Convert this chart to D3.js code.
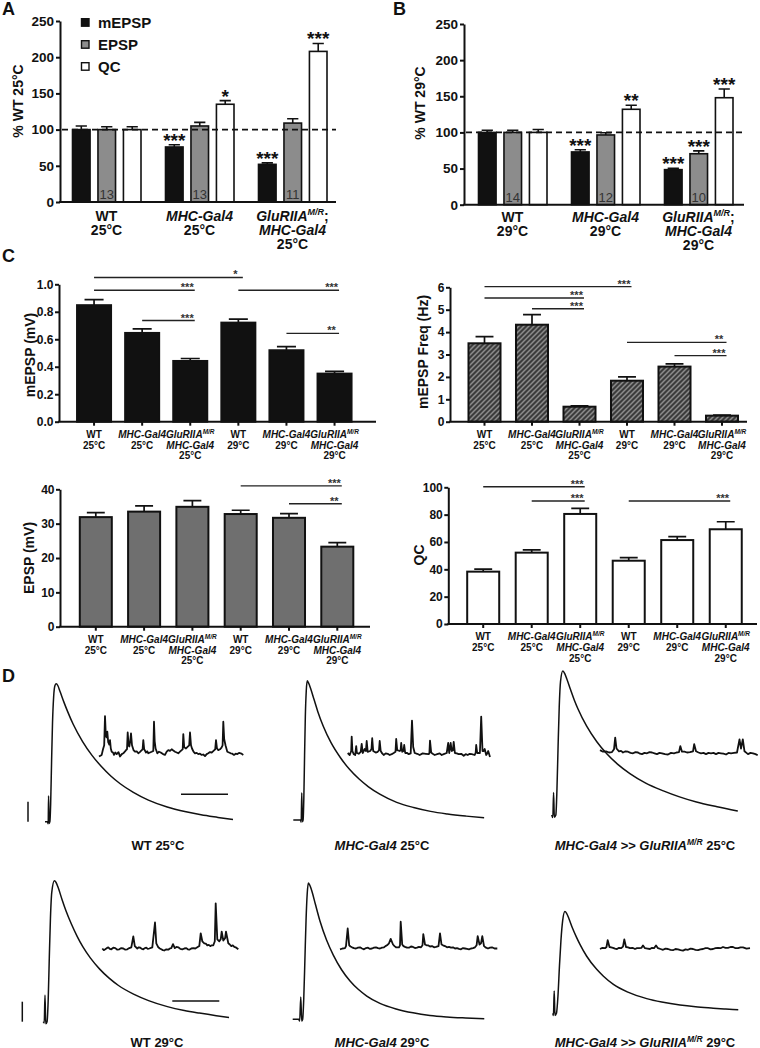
<!DOCTYPE html>
<html>
<head>
<meta charset="utf-8">
<script src="https://cdn.jsdelivr.net/npm/d3@7"></script>
<style>
  body { margin: 0; background: #fff; }
  svg { display: block; font-family: "Liberation Sans", Arial, Helvetica, sans-serif; font-weight: bold; }
</style>
</head>
<body>
<svg id="fig" width="760" height="1048"></svg>
<script>
// ---------- A / B : % of WT ----------
const seriesAB = ["mEPSP", "EPSP", "QC"]
const labelsA = [["WT", "25°C"], ["_MHC-Gal4_", "25°C"], ["_GluRIIA^M/R^_;", "_MHC-Gal4_", "25°C"]]
const labelsB = [["WT", "29°C"], ["_MHC-Gal4_", "29°C"], ["_GluRIIA^M/R^_;", "_MHC-Gal4_", "29°C"]]
const ticksAB = [0, 50, 100, 150, 200, 250]

const mepspA = [100, 76, 52]
const mepspAErr = [5, 3, 2]
const epspA = [100, 105, 109]
const epspAErr = [4, 5, 6]
const qcA = [100, 135, 208]
const qcAErr = [4, 5, 11]
const starsA = [["", "", ""], ["***", "", "*"], ["***", "", "***"]]
const nA = [13, 13, 11]

const mepspB = [100, 73, 48.5]
const mepspBErr = [3, 3, 2]
const epspB = [100, 96.5, 70.5]
const epspBErr = [3, 3, 4]
const qcB = [100, 132, 148]
const qcBErr = [4, 5.5, 12]
const starsB = [["", "", ""], ["***", "", "**"], ["***", "***", "***"]]
const nB = [14, 12, 10]

// ---------- C : raw values ----------
const genotypes = [["WT", "25°C"], ["_MHC-Gal4_", "25°C"], ["_GluRIIA^M/R^_", "_MHC-Gal4_", "25°C"],
                   ["WT", "29°C"], ["_MHC-Gal4_", "29°C"], ["_GluRIIA^M/R^_", "_MHC-Gal4_", "29°C"]]

const mepspC = [0.848, 0.646, 0.442, 0.721, 0.52, 0.35]
const mepspCErr = [0.04, 0.03, 0.018, 0.025, 0.026, 0.016]
const mepspSig = [[0, 3, "*"], [0, 2, "***"], [1, 2, "***"], [3, 5, "***"], [4, 5, "**"]]
const mepspSigLevel = [1.05, 0.957, 0.736, 0.957, 0.643]

const freqC = [3.5, 4.33, 0.67, 1.83, 2.46, 0.27]
const freqCErr = [0.3, 0.45, 0.04, 0.17, 0.12, 0.02]
const freqSig = [[0, 3, "***"], [0, 2, "***"], [1, 2, "***"], [3, 5, "**"], [4, 5, "***"]]
const freqSigLevel = [6.03, 5.52, 5.04, 3.54, 2.95]

const epspC = [31.9, 33.5, 34.9, 32.8, 31.7, 23.3]
const epspCErr = [1.3, 1.7, 1.8, 1.1, 1.2, 1.2]
const epspSig = [[3, 5, "***"], [4, 5, "**"]]
const epspSigLevel = [41, 35.8]

const qcC = [38.3, 52.2, 80.5, 46.3, 61.4, 69.3]
const qcCErr = [1.9, 2, 4.1, 2.2, 2.5, 5.5]
const qcSig = [[0, 2, "***"], [1, 2, "***"], [3, 5, "***"]]
const qcSigLevel = [100.4, 90, 90]

// ---------- D : example traces (ms, mV) ----------
const epspWT25 = [[0,0],[1.3,0],[1.7,-0.5],[1.9,6],[2.2,-0.4],[2.6,0],[3.0,4],[3.5,14],[4.0,23],[4.6,29],[5.3,31.6],[6.0,32],[6.8,31.6],[8,30.2],[10,27.8],[12,25.6],[15,22.6],[20,18.6],[25,15.4],[30,12.8],[35,10.6],[40,8.8],[47,6.8],[55,5],[65,3.4],[75,2.3],[83,1.6],[92,1],[100,0.5]]
const epspMHC25 = [[0,0],[3.8,0],[4.2,-0.5],[4.5,6.3],[4.8,-0.4],[5.2,0],[5.6,5],[6.0,15],[6.4,24],[6.9,30],[7.4,32.3],[8.1,31.8],[9.3,30.4],[11,28],[13,25.2],[16,21.7],[20,18],[25,14.5],[30,11.7],[35,9.5],[40,7.7],[46,6],[55,4.1],[64,2.9],[73,2],[82,1.4],[92,0.9],[101.5,0.5]]
const epspGlu25 = [[0,0],[0.6,-0.6],[1.0,5.2],[1.4,-0.5],[2.2,0],[2.8,6],[3.4,16],[4.0,25],[4.7,31],[5.9,33.4],[6.8,32.9],[8,31.6],[10,29.1],[12,26.7],[14,24.6],[18.6,20.6],[24,17],[29.3,14.2],[35,11.8],[41.6,9.6],[50,7.4],[59.4,5.6],[68,4.2],[77,3],[88,1.9],[99,0.9]]
const epspWT29 = [[0,0],[0.5,-0.3],[0.9,6.2],[1.3,-0.5],[2.0,0],[2.6,5],[3.2,15],[3.8,24],[4.5,30],[5.9,32.7],[6.8,32.3],[8,31],[10,28.3],[12,25.8],[15,22.6],[18,19.8],[21,17.4],[25,14.8],[30,12.2],[35,10.1],[40,8.4],[48,6.4],[56,4.9],[66,3.5],[75,2.6],[83,2],[92,1.4],[98.8,1]]
const epspMHC29 = [[0,0],[3.2,0],[3.7,-0.4],[4.3,5.2],[4.8,-0.4],[5.3,0],[5.9,5],[6.5,14],[7.1,23],[7.7,29],[8.3,31.6],[9,31.2],[10.3,29.6],[12,26.8],[14.5,22.8],[18,18.4],[21.6,14.9],[26,11.5],[30.5,8.9],[35,6.9],[39.4,5.4],[46.4,3.7],[55,2.4],[64,1.5],[73,0.9],[82,0.55],[92,0.3],[101.9,0.1]]
const epspGlu29 = [[0,0],[0.4,-0.5],[0.8,5.2],[1.2,-0.5],[2,0],[2.8,4],[3.6,11],[4.4,17],[5.3,21.5],[6.5,23.6],[7.4,23.2],[8.6,22],[10.5,19.8],[12.5,17.8],[14.5,16],[18,13.3],[23.4,10.2],[27,8.6],[32.3,6.7],[40,4.9],[50,3.4],[58,2.6],[67.7,1.9],[76,1.5],[85.4,1.2],[92,1],[98.7,0.8]]

const miniWT25 = [[0,-0.08],[27,-0.04],[40,0.1],[52,0.2],[60,0.93],[68,0.45],[76,0.4],[83,0.54],[92,0.28],[103,0.22],[110,0.33],[118,0.12],[127,0.04],[140,0.02],[150,-0.04],[163,0.02],[177,-0.02],[195,0.03],[210,-0.08],[228,-0.02],[243,0],[258,0.04],[270,0.08],[280,0.1],[287,0.52],[296,0.2],[303,0.17],[312,0.3],[320,0.5],[330,0.2],[345,0.08],[360,0.04],[377,0.05],[393,0],[408,0.03],[420,0.06],[436,0.1],[443,0.33],[452,0.1],[470,0.02],[482,0.05],[493,0],[510,0.02],[527,0.04],[543,0.06],[550,0.79],[557,0.3],[566,0.12],[583,0],[600,0.04],[617,0.02],[640,-0.02],[660,-0.04],[677,0.04],[693,0.08],[710,0.06],[727,0.1],[743,0.07],[760,0.04],[777,0.02],[793,0],[810,0.04],[827,0.08],[837,0.1],[843,0.48],[852,0.15],[870,0.12],[885,0.16],[902,0.2],[910,0.52],[920,0.2],[930,0.12],[945,0.04],[960,0],[977,0.01],[993,-0.02],[1010,-0.01],[1027,-0.04],[1043,-0.03],[1060,-0.07],[1077,-0.02],[1093,0],[1110,0.03],[1127,0.02],[1140,0.05],[1153,0.08],[1162,0.1],[1170,0.33],[1180,0.12],[1193,0.08],[1210,0.1],[1225,0.14],[1236,0.2],[1243,0.79],[1252,0.35],[1265,0.2],[1283,0.04],[1300,0.02],[1317,0],[1333,-0.01],[1350,-0.04],[1367,-0.01],[1383,-0.02],[1400,0.01],[1417,0],[1430,-0.02],[1443,-0.04]]
const miniMHC25 = [[0,0.05],[20,0],[35,0.1],[40,0.46],[47,0.1],[60,0.02],[75,0],[85,0.22],[92,0.05],[110,0.03],[130,0.08],[140,0.28],[150,0.05],[170,0.15],[182,0.1],[190,0.35],[200,0.08],[225,0.1],[238,0.15],[245,0.42],[255,0.1],[280,0.06],[300,0.08],[313,0.12],[320,0.35],[330,0.1],[345,0.04],[360,0],[380,0.04],[400,0.03],[420,0],[440,0.02],[460,0.05],[478,0.08],[485,0.4],[495,0.12],[520,0.1],[529,0.12],[535,0.3],[545,0.08],[558,0.1],[565,0.25],[575,0.05],[595,0.05],[610,0.02],[630,0.04],[643,0.86],[655,0.2],[670,0.05],[695,0.03],[720,0],[750,0.04],[780,0.03],[810,0.02],[817,0.05],[823,0.36],[835,0.06],[850,0.03],[870,0],[895,0.02],[920,0.04],[940,0],[960,0.02],[990,0.05],[1005,0.3],[1015,0.05],[1030,0.3],[1040,0.1],[1052,0.12],[1060,0.33],[1072,0.05],[1090,0.04],[1110,0.02],[1135,0.03],[1160,-0.02],[1180,0.02],[1200,0],[1220,0.03],[1240,0.02],[1270,0],[1280,0.06],[1285,0.25],[1295,0.05],[1322,0.05],[1335,0.96],[1348,0.1],[1360,0.1],[1370,0.15],[1385,0],[1395,0.04],[1405,0.1],[1423,-0.05]]
const miniGlu25 = [[0,0.08],[30,0.04],[60,0.05],[90,0.02],[120,0.03],[140,0.1],[152,0.39],[165,0.12],[190,0.05],[210,0.06],[230,0.02],[255,0.05],[280,0.04],[305,0.01],[330,0],[355,0.03],[380,0.02],[400,-0.01],[420,-0.02],[445,0.01],[470,0],[495,0.03],[520,0.02],[545,0],[570,-0.02],[595,0.01],[620,0],[650,-0.02],[680,-0.03],[710,0.01],[740,0],[765,0.02],[790,0.03],[803,0.18],[820,0.04],[845,0.04],[870,0.02],[900,0.03],[930,0.05],[942,0.23],[960,0.05],[985,0.02],[1010,0],[1035,0.01],[1060,-0.02],[1085,0.01],[1110,0],[1135,0.01],[1160,-0.02],[1185,0.01],[1210,0],[1235,-0.01],[1260,-0.03],[1285,0.01],[1310,0],[1340,0.01],[1370,0.02],[1395,0.35],[1410,0.12],[1428,0.35],[1445,0.05],[1465,0.01],[1480,-0.02],[1505,0.01],[1530,0],[1555,-0.02],[1577,-0.05]]
const miniWT29 = [[0,0.02],[15,-0.02],[30,0],[45,0.03],[60,0.05],[75,0.01],[90,0],[110,0.04],[130,0.03],[150,-0.01],[170,0],[190,0.03],[210,0.02],[230,-0.01],[250,0],[270,0.03],[290,0.05],[310,0.32],[325,0.08],[350,0.02],[365,0.05],[380,0.04],[395,0.01],[410,0],[425,0.03],[440,0.04],[455,0.01],[470,0.02],[500,0.05],[527,0.67],[540,0.15],[560,0.05],[575,0.02],[590,0],[605,-0.02],[620,-0.03],[640,0],[660,-0.01],[675,0.02],[690,0.03],[707,0.13],[725,0.03],[742,0.06],[760,0.05],[780,0.01],[800,0],[820,0.02],[840,0.03],[855,0],[870,-0.01],[890,0.02],[910,0.03],[930,0.02],[950,0.05],[970,0.08],[984,0.4],[1000,0.2],[1020,0.15],[1035,0.14],[1050,0.1],[1065,0.11],[1080,0.08],[1095,0.1],[1110,0.1],[1125,0.2],[1134,1.15],[1150,0.25],[1170,0.2],[1185,0.26],[1194,0.44],[1210,0.22],[1228,0.28],[1237,0.44],[1260,0.15],[1275,0.12],[1290,0.08],[1305,0.1],[1320,0.06],[1340,0.04],[1360,0]]
const miniMHC29 = [[0,0],[25,0.02],[50,0.03],[60,0.08],[77,0.52],[92,0.1],[105,0.07],[120,0.05],[140,0.03],[160,0.02],[180,0.04],[200,0.05],[220,0.02],[240,0],[260,0.03],[280,0.04],[300,0.01],[320,0.02],[340,0.04],[360,0.05],[380,0.03],[400,0.02],[420,0.04],[440,0.05],[455,0.08],[470,0.1],[490,0.15],[507,0.26],[530,0.12],[545,0.08],[560,0.05],[590,0.05],[600,0.1],[607,0.69],[622,0.12],[635,0.08],[650,0.06],[670,0.04],[690,0.04],[710,0.07],[730,0.06],[750,0.03],[770,0.04],[790,0.06],[810,0.05],[825,0.1],[833,0.38],[850,0.12],[865,0.1],[880,0.1],[900,0.07],[920,0.08],[940,0.05],[960,0.06],[985,0.08],[1000,0.4],[1015,0.12],[1030,0.1],[1050,0.08],[1070,0.05],[1090,0.06],[1110,0.04],[1130,0.05],[1150,0.02],[1170,0.03],[1190,0.01],[1210,0],[1230,0.03],[1250,0.02],[1270,0.01],[1290,0],[1310,0.02],[1330,0.03],[1350,0.05],[1366,0.1],[1377,0.33],[1395,0.12],[1410,0.15],[1423,0.33],[1440,0.08],[1460,0.04],[1480,0.02],[1500,0.04],[1520,0.05],[1545,0.02],[1573,0.02]]
const miniGlu29 = [[0,0],[25,0.03],[50,0.02],[65,0.05],[77,0.22],[95,0.05],[112,0.04],[130,0.03],[150,0.01],[170,0],[190,0.03],[210,0.02],[230,0.06],[243,0.24],[260,0.05],[280,0.04],[300,0.02],[325,0.03],[350,0],[370,0.02],[390,0.02],[415,0.03],[430,0.09],[450,0.02],[475,0.01],[500,0],[520,0.03],[540,0.02],[560,0.09],[580,0.02],[605,0],[630,-0.02],[655,0.01],[680,0],[705,-0.02],[730,-0.03],[755,0],[780,-0.01],[805,-0.03],[830,-0.04],[855,-0.01],[880,-0.02],[905,0.01],[930,0],[955,-0.02],[980,-0.03],[1005,-0.01],[1030,0],[1055,0.02],[1080,0.02],[1105,-0.01],[1130,0],[1155,0.02],[1180,0.03],[1205,0.02],[1230,0.05],[1255,0.03],[1280,0.03],[1305,0.05],[1330,0.05],[1355,0.02],[1380,0.02],[1405,0.04],[1430,0.04],[1465,0.01],[1500,0.02]]

const traceLabels = ["WT 25°C", "_MHC-Gal4_ 25°C", "_MHC-Gal4 >> GluRIIA^M/R^_ 25°C",
                     "WT 29°C", "_MHC-Gal4_ 29°C", "_MHC-Gal4 >> GluRIIA^M/R^_ 29°C"]

// ---------------------------------------------------------------
const svg = d3.select("#fig")
const INK = "#111"

// tiny markup: _italic_  ^superscript^
function rich(text, str, supSize, shift) {
  let italic = false, sup = false, up = false, buf = ""
  const flush = () => {
    if (!buf) return
    const t = text.append("tspan").text(buf)
    if (italic) t.attr("font-style", "italic")
    if (sup) {
      t.attr("font-size", supSize)
      if (!up) { t.attr("dy", -shift); up = true }
    } else if (up) { t.attr("dy", shift); up = false }
    buf = ""
  }
  for (const ch of str) {
    if (ch === "_") { flush(); italic = !italic }
    else if (ch === "^") { flush(); sup = !sup }
    else buf += ch
  }
  flush()
}

function lines(g, x, y0, arr, size, lh, supSize) {
  arr.forEach((ln, k) => {
    const t = g.append("text").attr("x", x).attr("y", y0 + k * lh)
      .attr("text-anchor", "middle").attr("font-size", size).attr("fill", INK)
    rich(t, ln, supSize, size * 0.42)
  })
}

function yTitle(g, x, y, str, size) {
  g.append("text").attr("transform", `translate(${x},${y}) rotate(-90)`)
    .attr("text-anchor", "middle").attr("font-size", size).attr("fill", INK).text(str)
}

function styleAxis(ax, size) {
  ax.attr("font-family", null).attr("font-size", size)
  ax.selectAll("path,line").attr("stroke", INK).attr("stroke-width", 2)
  ax.selectAll("text").attr("fill", INK).attr("font-weight", "bold")
}

const letters = [["A", 2, 15], ["B", 393, 15], ["C", 2, 262], ["D", 2, 682]]
letters.forEach(([l, x, y]) => svg.append("text").attr("x", x).attr("y", y)
  .attr("font-size", 18).attr("fill", INK).text(l))

// hatch for mEPSP frequency bars
const pat = svg.append("defs").append("pattern").attr("id", "hatch")
  .attr("patternUnits", "userSpaceOnUse").attr("width", 5).attr("height", 5)
pat.append("rect").attr("width", 5).attr("height", 5).attr("fill", "#3c3c3c")
pat.append("path").attr("d", "M-1,1L1,-1M0,5L5,0M4,6L6,4")
  .attr("stroke", "#8c8c8c").attr("stroke-width", 1.5)

// ---------- A and B ----------
const fillAB = [INK, "#8c8c8c", "#fff"]

function drawAB(cfg) {
  const g = svg.append("g")
  const y = d3.scaleLinear().domain([0, 250]).range(cfg.yRange)
  const xg = d3.scaleBand().domain(d3.range(3)).range(cfg.xRange)
  const xs = d3.scaleBand().domain(seriesAB).range([12.5, 81]).paddingInner(0.31)
  const bw = xs.bandwidth()
  const rows = []
  cfg.vals.forEach((arr, s) => arr.forEach((v, i) =>
    rows.push({ i, s, v, e: cfg.errs[s][i], star: cfg.stars[i][s] })))
  const left = d => xg(d.i) + xs(seriesAB[d.s])
  const cx = d => left(d) + bw / 2

  g.selectAll(".err").data(rows).join("path")
    .attr("d", d => `M${cx(d)},${y(d.v)}V${y(d.v + d.e)}M${cx(d) - bw * 0.32},${y(d.v + d.e)}H${cx(d) + bw * 0.32}`)
    .attr("stroke", INK).attr("stroke-width", 1.6).attr("fill", "none")

  g.selectAll(".bar").data(rows).join("rect")
    .attr("x", left).attr("width", bw)
    .attr("y", d => y(d.v)).attr("height", d => y(0) - y(d.v))
    .attr("fill", d => fillAB[d.s]).attr("stroke", INK).attr("stroke-width", 1.6)

  g.append("line").attr("x1", cfg.axisX + 2).attr("x2", cfg.xEnd)
    .attr("y1", y(100)).attr("y2", y(100))
    .attr("stroke", INK).attr("stroke-width", 1.6).attr("stroke-dasharray", "6,4")

  g.selectAll(".star").data(rows.filter(d => d.star)).join("text")
    .attr("x", cx).attr("y", d => y(d.v + d.e) + 2)
    .attr("text-anchor", "middle").attr("font-size", 19).attr("fill", INK).text(d => d.star)

  g.selectAll(".n").data(cfg.n).join("text")
    .attr("x", (d, i) => xg(i) + xs("EPSP") + bw / 2).attr("y", y(0) - 3)
    .attr("text-anchor", "middle").attr("font-size", 13).attr("font-weight", "normal")
    .attr("fill", "#333").text(d => d)

  const ax = g.append("g").attr("transform", `translate(${cfg.axisX},0)`)
    .call(d3.axisLeft(y).tickValues(ticksAB).tickSize(4).tickSizeOuter(0).tickPadding(2))
  styleAxis(ax, 13.5)
  g.append("line").attr("x1", cfg.axisX - 1).attr("x2", cfg.xEnd)
    .attr("y1", y(0)).attr("y2", y(0)).attr("stroke", INK).attr("stroke-width", 2)

  cfg.labels.forEach((ls, i) => lines(g, xg(i) + xg.bandwidth() / 2, cfg.labelY, ls, 14, 14, 9))
  yTitle(g, cfg.titleX, cfg.titleY, cfg.title, 14)
  return { g, xs }
}

const A = drawAB({
  yRange: [202, 21], xRange: [60, 339], axisX: 60, xEnd: 336,
  vals: [mepspA, epspA, qcA], errs: [mepspAErr, epspAErr, qcAErr], stars: starsA, n: nA,
  labels: labelsA, labelY: 220.5, title: "% WT 25°C", titleX: 22.5, titleY: 101
})
drawAB({
  yRange: [204.7, 24], xRange: [466, 745], axisX: 464, xEnd: 744,
  vals: [mepspB, epspB, qcB], errs: [mepspBErr, epspBErr, qcBErr], stars: starsB, n: nB,
  labels: labelsB, labelY: 222, title: "% WT 29°C", titleX: 425, titleY: 103
})

// legend in A
seriesAB.forEach((s, k) => {
  const cy = 22.7 + k * 22
  A.g.append("rect").attr("x", 81.5).attr("y", cy - 4).attr("width", 7.5).attr("height", 7.5)
    .attr("fill", fillAB[k]).attr("stroke", INK).attr("stroke-width", 1.4)
  A.g.append("text").attr("x", 98).attr("y", cy + 5.2).attr("font-size", 15).attr("fill", INK).text(s)
})

// ---------- C ----------
function drawC(cfg) {
  const g = svg.append("g")
  const y = d3.scaleLinear().domain([0, cfg.max]).range(cfg.yRange)
  const x = d3.scaleBand().domain(d3.range(6)).range(cfg.xRange)
    .paddingInner(cfg.pad).paddingOuter(cfg.pad / 2)
  const bw = x.bandwidth()
  const c = i => x(i) + bw / 2
  const rows = cfg.vals.map((v, i) => ({ i, v, e: cfg.errs[i] }))

  g.selectAll(".err").data(rows).join("path")
    .attr("d", d => `M${c(d.i)},${y(d.v)}V${y(d.v + d.e)}M${c(d.i) - bw * 0.28},${y(d.v + d.e)}H${c(d.i) + bw * 0.28}`)
    .attr("stroke", INK).attr("stroke-width", 1.7).attr("fill", "none")
  g.selectAll(".bar").data(rows).join("rect")
    .attr("x", d => x(d.i)).attr("width", bw)
    .attr("y", d => y(d.v)).attr("height", d => y(0) - y(d.v))
    .attr("fill", cfg.fill).attr("stroke", INK).attr("stroke-width", 2)

  const ax = g.append("g").attr("transform", `translate(${cfg.axisX},0)`)
    .call(d3.axisLeft(y).ticks(cfg.ticks).tickFormat(d3.format(cfg.fmt))
      .tickSize(4).tickSizeOuter(0).tickPadding(1.5))
  styleAxis(ax, 12)
  const bx = g.append("g").attr("transform", `translate(0,${y(0)})`)
    .call(d3.axisBottom(x).tickFormat("").tickSize(4).tickSizeOuter(0))
  bx.select(".domain").remove()
  styleAxis(bx, 10)
  g.append("line").attr("x1", cfg.axisX - 1).attr("x2", cfg.xEnd)
    .attr("y1", y(0)).attr("y2", y(0)).attr("stroke", INK).attr("stroke-width", 2)

  cfg.sig.forEach(([i, j, s], k) => {
    const ly = y(cfg.levels[k])
    g.append("line").attr("x1", c(i)).attr("x2", c(j) + 4.5).attr("y1", ly).attr("y2", ly)
      .attr("stroke", "#222").attr("stroke-width", 1.4)
    g.append("text").attr("x", c(j) - 3).attr("y", ly + 1).attr("text-anchor", "middle")
      .attr("font-size", 11).attr("fill", "#333").text(s)
  })

  genotypes.forEach((ls, i) => lines(g, c(i), y(0) + 16, ls, 10, 10.8, 6.5))
  yTitle(g, cfg.titleX, cfg.titleY, cfg.title, 14)
}

drawC({ max: 1, yRange: [421.7, 284.3], xRange: [70, 358.6], pad: 0.293, axisX: 59, xEnd: 376,
  vals: mepspC, errs: mepspCErr, fill: INK, ticks: 5, fmt: ".1f",
  sig: mepspSig, levels: mepspSigLevel, title: "mEPSP (mV)", titleX: 35, titleY: 355 })
drawC({ max: 6, yRange: [421.7, 287.3], xRange: [460.75, 745.75], pad: 0.326, axisX: 450, xEnd: 747,
  vals: freqC, errs: freqCErr, fill: "url(#hatch)", ticks: 6, fmt: "d",
  sig: freqSig, levels: freqSigLevel, title: "mEPSP Freq (Hz)", titleX: 428, titleY: 352 })
drawC({ max: 40, yRange: [626.7, 489.3], xRange: [71.65, 361.45], pad: 0.337, axisX: 60, xEnd: 370,
  vals: epspC, errs: epspCErr, fill: "#6f6f6f", ticks: 4, fmt: "d",
  sig: epspSig, levels: epspSigLevel, title: "EPSP (mV)", titleX: 33.5, titleY: 558 })
drawC({ max: 100, yRange: [624, 487.3], xRange: [458.95, 750], pad: 0.34, axisX: 448.3, xEnd: 757,
  vals: qcC, errs: qcCErr, fill: "#fff", ticks: 5, fmt: "d",
  sig: qcSig, levels: qcSigLevel, title: "QC", titleX: 424, titleY: 555 })

// ---------- D ----------
const traces = [
  { epsp: epspWT25, mini: miniWT25, x0: 45, base: 821.7, mx: 99, mBase: 753.3, lx: 158, ly: 850 },
  { epsp: epspMHC25, mini: miniMHC25, x0: 293.3, base: 820, mx: 347.7, mBase: 755, lx: 382, ly: 850 },
  { epsp: epspGlu25, mini: miniGlu25, x0: 551.7, base: 815, mx: 600, mBase: 753.3, lx: 645, ly: 850 },
  { epsp: epspWT29, mini: miniWT29, x0: 43.3, base: 1021.7, mx: 102.3, mBase: 949.3, lx: 157, ly: 1046.5 },
  { epsp: epspMHC29, mini: miniMHC29, x0: 292.7, base: 1019.3, mx: 340, mBase: 949.3, lx: 382, ly: 1046.5 },
  { epsp: epspGlu29, mini: miniGlu29, x0: 552.7, base: 1013.3, mx: 600, mBase: 949, lx: 645, ly: 1046.5 }
]
const gD = svg.append("g")
const scaleBars = [{ tr: 0, vx: 28, hx: 181, hy: 794.3 }, { tr: 3, vx: 22.3, hx: 172.3, hy: 1001 }]

traces.forEach((tr, k) => {
  tr.xE = d3.scaleLinear().domain([0, 100]).range([tr.x0, tr.x0 + 188])
  tr.yE = d3.scaleLinear().domain([0, 10]).range([tr.base, tr.base - 43.1])
  tr.xM = d3.scaleLinear().domain([0, 1000]).range([tr.mx, tr.mx + 100])
  tr.yM = d3.scaleLinear().domain([0, 1]).range([tr.mBase, tr.mBase - 40])

  gD.append("path").datum(tr.epsp)
    .attr("d", d3.line().x(d => tr.xE(d[0])).y(d => tr.yE(d[1])).curve(d3.curveMonotoneX))
    .attr("fill", "none").attr("stroke", INK).attr("stroke-width", 1.5)
  gD.append("path").datum(tr.mini)
    .attr("d", d3.line().x(d => tr.xM(d[0])).y(d => tr.yM(d[1])))
    .attr("fill", "none").attr("stroke", INK).attr("stroke-width", 1.8).attr("stroke-linejoin", "round")

  const t = gD.append("text").attr("x", tr.lx).attr("y", tr.ly).attr("text-anchor", "middle")
    .attr("font-size", 13).attr("fill", INK)
  rich(t, traceLabels[k], 8.5, 5)
})

// scale bars: 0.5 mV (minis) and 25 ms (evoked)
scaleBars.forEach(sb => {
  const tr = traces[sb.tr]
  gD.append("line").attr("x1", sb.vx).attr("x2", sb.vx)
    .attr("y1", tr.base).attr("y2", tr.base - (tr.yM(0) - tr.yM(0.5)))
    .attr("stroke", INK).attr("stroke-width", 1.5)
  gD.append("line").attr("x1", sb.hx).attr("x2", sb.hx + tr.xE(25) - tr.xE(0))
    .attr("y1", sb.hy).attr("y2", sb.hy).attr("stroke", INK).attr("stroke-width", 1.5)
})
</script>
</body>
</html>
